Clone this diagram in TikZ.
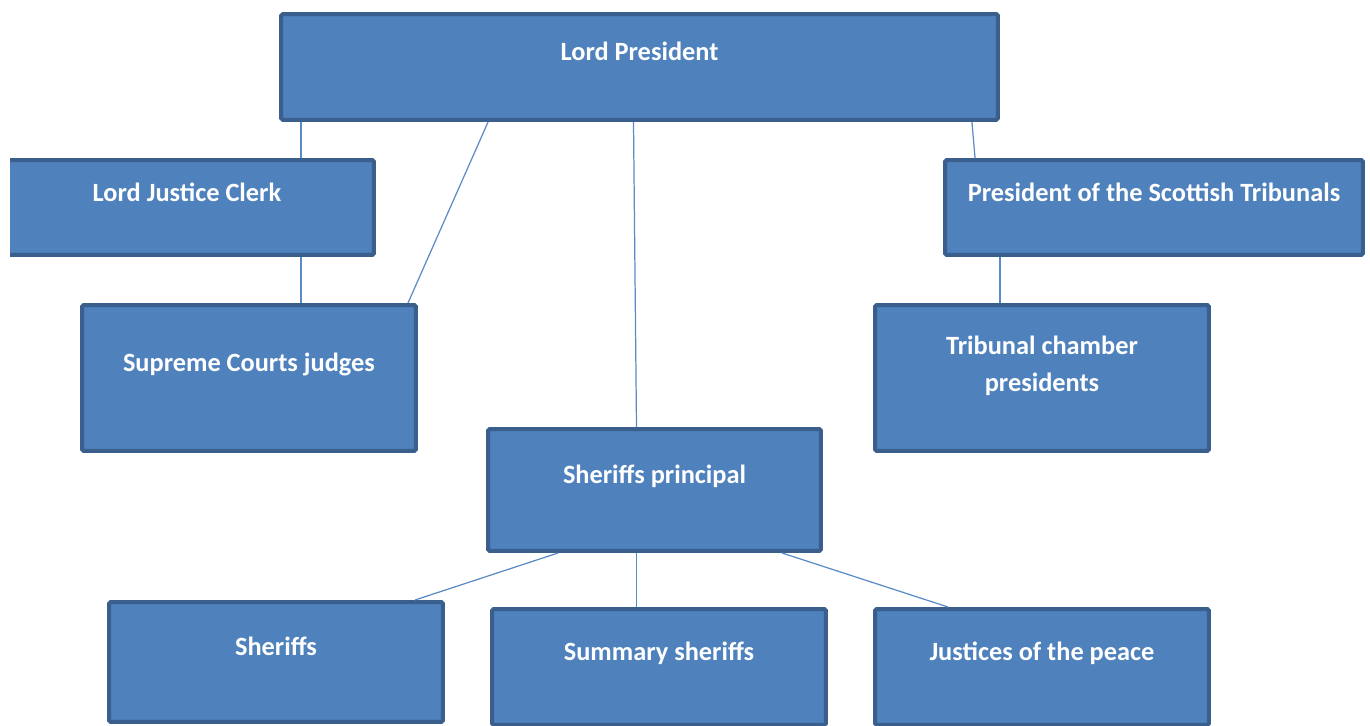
\documentclass[tikz,border=0pt]{standalone}
\usepackage{fontspec}
\setmainfont{Carlito}
\usetikzlibrary{calc}
\definecolor{boxfill}{HTML}{4F81BD}
\definecolor{boxline}{HTML}{3A5F8C}
\definecolor{linkcol}{HTML}{5A8BC6}

\begin{document}
\begin{tikzpicture}[x=0.02cm,y=-0.02cm,
  box/.style={draw=boxline,fill=boxfill,line width=0.08cm,rounded corners=1pt,
    text=white,font=\fontsize{15}{21}\selectfont\bfseries,align=center,
    inner sep=0pt,text height=0.3cm,text depth=0.56cm},
  link/.style={draw=linkcol,line width=0.7pt}]
\useasboundingbox (0,0) rectangle (1370,726);

\node [box,minimum width=14.34cm,minimum height=2.12cm] (lp) at (639.5,67) {Lord President};
\begin{scope}
  \clip (10,140) rectangle (400,270);
  \node [box,minimum width=7.48cm,minimum height=1.90cm] (ljc) at (187,207.5) {Lord Justice Clerk};
\end{scope}
\node [box,minimum width=6.68cm,minimum height=2.92cm] (scj) at (249,378) {Supreme Courts judges};
\node [box,minimum width=8.36cm,minimum height=1.90cm] (pst) at (1154,207.5) {President of the Scottish Tribunals};
\node [box,minimum width=6.68cm,minimum height=2.92cm,text height=0.54cm,text depth=0cm] (tcp) at (1042,378) {Tribunal chamber\\presidents};
\node [box,minimum width=6.66cm,minimum height=2.44cm] (sp) at (654.5,490) {Sheriffs principal};
\node [box,minimum width=6.68cm,minimum height=2.40cm] (sh) at (276,662) {Sheriffs};
\node [box,minimum width=6.68cm,minimum height=2.32cm] (ss) at (659,667) {Summary\ sheriffs};
\node [box,minimum width=6.68cm,minimum height=2.32cm] (jp) at (1042,667) {Justices of the peace};

% lord president
\draw [link] ($(lp.south west)+(22,0)$) coordinate (a) -- (a |- ljc.north);
\draw [link] (a |- ljc.south) -- (a |- scj.north);
\draw [link] ($(lp.south west)+(209,0)$) -- ($(scj.north east)+(-10,0)$);
\draw [link] ($(lp.south)+(-6,0)$) -- ($(sp.north)+(-18,0)$);
\draw [link] ($(lp.south east)+(-28,0)$) -- ($(pst.north west)+(32,0)$);
\draw [link] ($(pst.south west)+(57,0)$) coordinate (b) -- (b |- tcp.north);
% sheriffs principal
\draw [link] ($(sp.south west)+(72,0)$) -- ($(sh.north east)+(-30,0)$);
\draw [link] ($(sp.south)+(-18,0)$) coordinate (c) -- (c |- ss.north);
\draw [link] ($(sp.south east)+(-41,0)$) -- ($(jp.north west)+(75,0)$);
\end{tikzpicture}
\end{document}
